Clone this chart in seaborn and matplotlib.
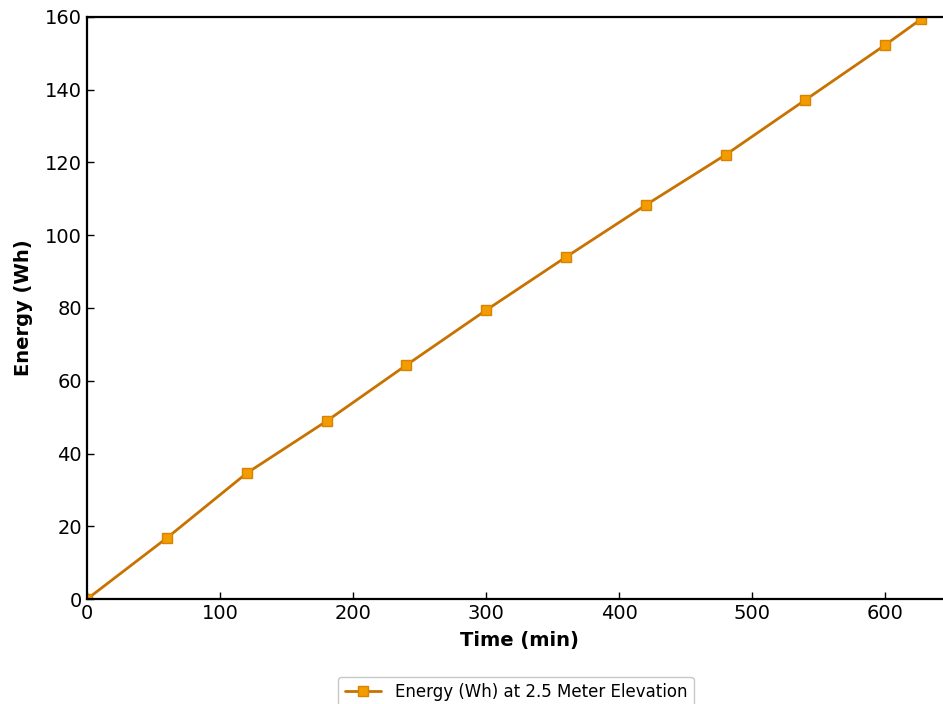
import matplotlib
matplotlib.use("Agg")
import matplotlib.pyplot as plt
import seaborn as sns
import pandas as pd

# Cumulative energy readings over time
time_min = [0, 60, 120, 180, 240, 300, 360, 420, 480, 540, 600, 627]
energy_wh = [0, 16.8, 34.6, 48.9, 64.3, 79.4, 94.0, 108.3, 122.1, 137.2, 152.3, 159.4]
series_label = "Energy (Wh) at 2.5 Meter Elevation"

df = pd.DataFrame({"Time (min)": time_min, "Energy (Wh)": energy_wh})

sns.set_theme(style="white")
plt.rcParams["font.family"] = ["DejaVu Sans"]
plt.rcParams["text.color"] = "black"
plt.rcParams["axes.labelcolor"] = "black"

fig = plt.figure(figsize=(9.43, 7.04), dpi=100)
ax = fig.add_axes([0.0923, 0.149, 0.917, 0.827])

sns.lineplot(data=df, x="Time (min)", y="Energy (Wh)", ax=ax,
             color="#C87200", linewidth=2, marker="s", markersize=7,
             markerfacecolor="#F39C00", markeredgecolor="#D98300",
             markeredgewidth=1, label=series_label)

ax.set_xlim(0, 650)
ax.set_ylim(0, 160)
ax.set_xticks([0, 100, 200, 300, 400, 500, 600])
ax.set_yticks([0, 20, 40, 60, 80, 100, 120, 140, 160])
ax.tick_params(direction="in", length=5, width=1, labelsize=14,
               colors="black", left=True, bottom=True)
ax.set_xlabel("Time (min)", fontsize=14, fontweight="bold", labelpad=5.5)
ax.set_ylabel("Energy (Wh)", fontsize=14, fontweight="bold", labelpad=8.5)

for side in ["left", "bottom", "top", "right"]:
    ax.spines[side].set_color("black")
    ax.spines[side].set_linewidth(1.6)

leg = ax.legend(loc="upper center", bbox_to_anchor=(0.547, 0.039),
                bbox_transform=fig.transFigure, borderaxespad=0,
                fontsize=12, frameon=True, edgecolor="#bbbbbb",
                fancybox=True, handlelength=2.2)
for t in leg.get_texts():
    t.set_color("black")

fig.savefig("out.png", dpi=100)
